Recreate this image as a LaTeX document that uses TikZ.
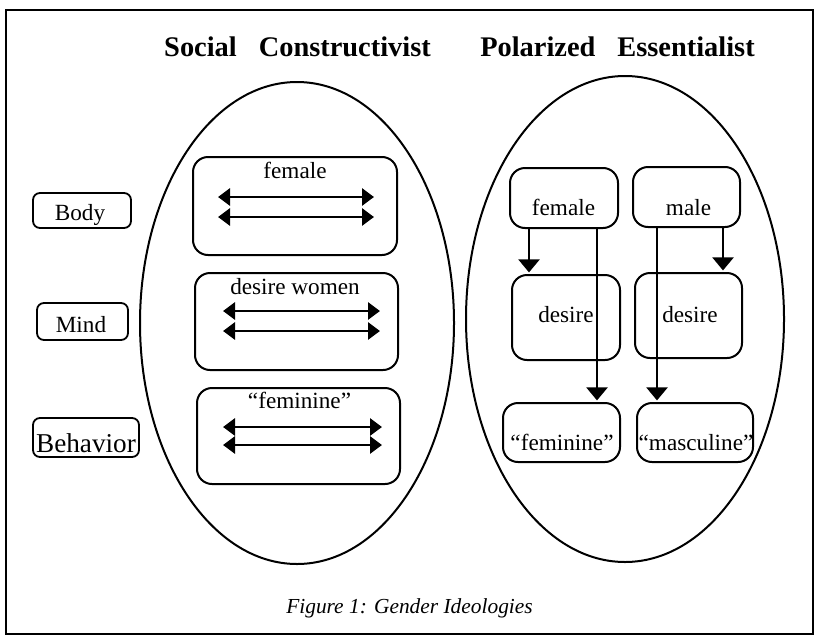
\documentclass[tikz,border=0pt]{standalone}
\usepackage{fontspec}
\setmainfont{Liberation Serif}
\usetikzlibrary{arrows.meta,positioning,shapes.geometric}

\begin{document}
\begin{tikzpicture}[
  x=0.5pt,
  y=-0.5pt,
  camp/.style={ellipse,draw=black,line width=1pt,inner sep=0pt},
  tag/.style={draw=black,line width=0.9pt,rounded corners=3.5pt,inner sep=0pt},
  cell/.style={draw=black,line width=1pt,rounded corners=7.5pt,inner sep=0pt},
  word/.style={anchor=base,inner sep=0pt,font=\fontsize{11.6}{13}\selectfont},
  heading/.style={anchor=base,inner sep=0pt,font=\fontsize{14.2}{16}\selectfont\bfseries},
  twoway/.style={line width=1.4pt,{Triangle[width=8.5pt,length=6pt]}-{Triangle[width=8.5pt,length=6pt]}},
  drop/.style={line width=1.2pt,shorten >=0.8pt,-{Triangle[width=10.5pt,length=6.5pt]}}
]
  \useasboundingbox (0,0) rectangle (818,637);
  \draw[line width=0.9pt] (6,10) rectangle (813,634);

  % headings and caption
  \node[heading] (scHead) at (297.5,56) {Social\hspace{11pt}Constructivist};
  \node[heading] (peHead) at (617.5,56) {Polarized\hspace{11pt}Essentialist};
  \node[anchor=base,inner sep=0pt,font=\fontsize{10.7}{13}\selectfont\itshape]
    (cap) at (409.5,613) {Figure 1: Gender Ideologies};

  % row tags
  \node[tag,minimum width=49pt,minimum height=17.5pt] (body) at (82,210.5) {};
  \node[tag,minimum width=45.5pt,minimum height=18.5pt] (mind) at (82.5,321.5) {};
  \node[tag,minimum width=53pt,minimum height=19.5pt] (behav) at (86,437.5) {};
  \node[word] (bodyT) at (80,220) {Body};
  \node[word] (mindT) at (81,332) {Mind};
  \node[word,font=\fontsize{13.6}{16}\selectfont] (behavT) at (86,452) {Behavior};

  % social constructivist
  \node[camp,minimum width=157pt,minimum height=241pt] (social) at (297,323) {};
  \node[cell,minimum width=102pt,minimum height=49pt] (sexSC) at (295,206) {};
  \node[cell,minimum width=101.5pt,minimum height=48.5pt] (desSC) at (296.5,321.5) {};
  \node[cell,minimum width=101.5pt,minimum height=48pt] (genSC) at (298.5,436) {};
  \node[word] (sexT) at (295,178) {female};
  \node[word] (desT) at (295,294) {desire women};
  \node[word] (genT) at (299.5,408) {``feminine''};
  \coordinate (s1l) at (218,197); \coordinate (s1r) at (374,197);
  \coordinate (s2l) at (218,217); \coordinate (s2r) at (374,217);
  \coordinate (d1l) at (223,311); \coordinate (d1r) at (380,311);
  \coordinate (d2l) at (223,331); \coordinate (d2r) at (380,331);
  \coordinate (g1l) at (223,427); \coordinate (g1r) at (382,427);
  \coordinate (g2l) at (223,445); \coordinate (g2r) at (382,445);
  \draw[twoway] (s1l) -- (s1r);
  \draw[twoway] (s2l) -- (s2r);
  \draw[twoway] (d1l) -- (d1r);
  \draw[twoway] (d2l) -- (d2r);
  \draw[twoway] (g1l) -- (g1r);
  \draw[twoway] (g2l) -- (g2r);

  % polarized essentialist
  \node[camp,minimum width=159pt,minimum height=243pt] (polar) at (625,319) {};
  \node[cell,minimum width=54pt,minimum height=30pt] (femP) at (564,198) {};
  \node[cell,minimum width=53.5pt,minimum height=30pt] (maleP) at (686.5,197) {};
  \node[cell,minimum width=54pt,minimum height=42.5pt] (desF) at (566,317.5) {};
  \node[cell,minimum width=53.5pt,minimum height=42.5pt] (desM) at (688.5,315.5) {};
  \node[cell,minimum width=58.5pt,minimum height=29.5pt] (femG) at (561.5,432.5) {};
  \node[cell,minimum width=58pt,minimum height=29.5pt] (masG) at (695,432.5) {};
  \node[word] (femPT) at (563.5,215) {female};
  \node[word] (malePT) at (688.5,215) {male};
  \node[word] (desFT) at (566,322) {desire};
  \node[word] (desMT) at (690,322) {desire};
  \node[word] (femGT) at (562,450) {``feminine''};
  \node[word] (masGT) at (696,450) {``masculine''};
  \draw[drop] (femP.south -| 529,0) -- (desF.north -| 529,0);
  \draw[drop] (femP.south -| 597,0) -- (femG.north -| 597,0);
  \draw[drop] (maleP.south -| 657,0) -- (masG.north -| 657,0);
  \draw[drop] (maleP.south -| 723,0) -- (desM.north -| 723,0);
\end{tikzpicture}
\end{document}
